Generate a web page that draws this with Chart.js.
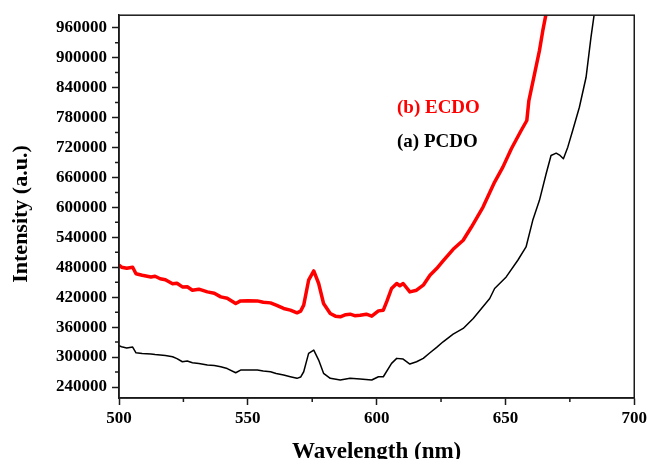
<!DOCTYPE html>
<html>
<head>
<meta charset="utf-8">
<script src="https://cdn.jsdelivr.net/npm/chart.js@4"></script>
<style>
  html, body { margin: 0; padding: 0; background: #fff; overflow: hidden; }
  #wrap { width: 650px; height: 459px; overflow: hidden; }
</style>
</head>
<body>
<div id="wrap"><canvas id="c" width="650" height="470"></canvas></div>
<script>
// Emission spectra (wavelength in nm, intensity in a.u.)
const ecdoWavelength = [500, 501, 503, 505.3, 506.6, 509, 512.4, 514, 516, 518, 520.8, 522.5, 524.6, 526.5, 528.5, 531, 534.3, 537, 539.5, 542, 545.3, 547.2, 550, 553.7, 556, 558.8, 561, 563.9, 566.5, 569.1, 570.5, 571.7, 573.6, 575.6, 577.5, 579.4, 582, 584, 585.9, 588, 589.7, 591.5, 593.6, 596, 598.1, 600.7, 602.6, 604, 605.8, 607.8, 609, 610.3, 612.9, 615.5, 618.1, 620.7, 623.3, 625.8, 629.7, 633.6, 636.8, 641.3, 645.8, 649, 652.3, 656.1, 658.3, 659.1, 661.3, 663.2, 664.5, 665.8, 666.5];
const ecdoIntensity = [484000, 480000, 478000, 480000, 467000, 464000, 460600, 462000, 457000, 455000, 447000, 448000, 440600, 441000, 434000, 436000, 430600, 428000, 420600, 418000, 407400, 412600, 413000, 412600, 410000, 408600, 404000, 397400, 394000, 388600, 392000, 404000, 454000, 472600, 447400, 407400, 387400, 382000, 380600, 385000, 386000, 383000, 384000, 386000, 382000, 392600, 394000, 412000, 437400, 447400, 443000, 447400, 430600, 434000, 444000, 464000, 477400, 492600, 516000, 534000, 560600, 600600, 650600, 680600, 717400, 754000, 774000, 814000, 867400, 914000, 954000, 988600, 1010000];

const pcdoWavelength = [500, 501, 503, 505.3, 506.6, 509, 512.4, 514, 516, 518, 520.8, 522.5, 524.6, 526.5, 528.5, 531, 534.3, 537, 539.5, 542, 545.3, 547.2, 550, 553.7, 556, 558.8, 561, 563.9, 566.5, 569.1, 570.5, 571.7, 573.6, 575.6, 577.5, 579.4, 582, 585.9, 589.7, 593.6, 598.1, 600.7, 602.6, 605.8, 607.8, 610.3, 612.9, 615.5, 618.1, 620.7, 623.3, 625.8, 629.7, 633.6, 637.5, 640.7, 643.9, 645.8, 650.3, 654.8, 658, 660.6, 663.2, 665.8, 667.7, 669.7, 671.2, 672.5, 674.2, 676.1, 678.7, 681.3, 683.2, 684.5, 685.2];
const pcdoIntensity = [322600, 320600, 318000, 320000, 308600, 307000, 306000, 305000, 304000, 303000, 300600, 297000, 290600, 292000, 288600, 287000, 284000, 283000, 280600, 277000, 268600, 274000, 274000, 274000, 272000, 270600, 267000, 264000, 260600, 257400, 260000, 270600, 307400, 314000, 294000, 267400, 257400, 254000, 257400, 256000, 254000, 260600, 260600, 287400, 297400, 296000, 286000, 290600, 297400, 308600, 319400, 330600, 346000, 357400, 377400, 397400, 417400, 437400, 460600, 494000, 520600, 574000, 614000, 667400, 704000, 708600, 704000, 697400, 720600, 754000, 800600, 860600, 940600, 988600, 1010000];

// Axis tick positions (major ones carry labels)
const xTicks = [500, 525, 550, 575, 600, 625, 650, 675, 700];
const xLabelled = [500, 550, 600, 650, 700];
const yTicks = [240000, 270000, 300000, 330000, 360000, 390000, 420000, 450000, 480000, 510000, 540000, 570000, 600000, 630000, 660000, 690000, 720000, 750000, 780000, 810000, 840000, 870000, 900000, 930000, 960000];
const yLabelled = [240000, 300000, 360000, 420000, 480000, 540000, 600000, 660000, 720000, 780000, 840000, 900000, 960000];

const seriesNames = ['(b) ECDO', '(a) PCDO'];
const seriesColors = ['#ff0000', '#000000'];
const yTitle = 'Intensity (a.u.)';

const FONT = '"Liberation Serif", "Times New Roman", serif';
const AXIS = '#1a1a1a';

function toPoints(xs, ys) { return xs.map((x, i) => ({ x: x, y: ys[i] })); }

const frameAndMinorTicks = {
  id: 'frameAndMinorTicks',
  afterDraw(chart) {
    const { ctx, chartArea: a, scales } = chart;
    ctx.save();
    ctx.strokeStyle = AXIS;
    ctx.lineWidth = 1.5;
    ctx.strokeRect(a.left, a.top, a.right - a.left, a.bottom - a.top);
    ctx.beginPath();
    xTicks.filter(v => !xLabelled.includes(v)).forEach(v => {
      const px = scales.x.getPixelForValue(v);
      ctx.moveTo(px, a.bottom); ctx.lineTo(px, a.bottom + 4);
    });
    yTicks.filter(v => !yLabelled.includes(v)).forEach(v => {
      const py = scales.y.getPixelForValue(v);
      ctx.moveTo(a.left - 4, py); ctx.lineTo(a.left, py);
    });
    ctx.stroke();
    // series labels
    ctx.font = 'bold 19px ' + FONT;
    ctx.textBaseline = 'middle';
    ctx.textAlign = 'left';
    ctx.fillStyle = seriesColors[0];
    ctx.fillText(seriesNames[0], 397, 108);
    ctx.fillStyle = seriesColors[1];
    ctx.fillText(seriesNames[1], 397, 142);
    // vertical axis title
    ctx.translate(21, 214);
    ctx.rotate(-Math.PI / 2);
    ctx.textAlign = 'center';
    ctx.fillStyle = '#000';
    ctx.font = 'bold 22px ' + FONT;
    ctx.fillText(yTitle, 0, 0);
    ctx.restore();
  }
};

new Chart(document.getElementById('c'), {
  type: 'line',
  data: {
    datasets: [
      { label: seriesNames[0], data: toPoints(ecdoWavelength, ecdoIntensity), borderColor: seriesColors[0], borderWidth: 3.5 },
      { label: seriesNames[1], data: toPoints(pcdoWavelength, pcdoIntensity), borderColor: seriesColors[1], borderWidth: 1.5 }
    ]
  },
  options: {
    responsive: false,
    animation: false,
    devicePixelRatio: 1,
    layout: { padding: { top: 13, right: 15, bottom: 0, left: 0 } },
    elements: {
      point: { radius: 0 },
      line: { tension: 0, borderJoinStyle: 'round', borderCapStyle: 'round' }
    },
    plugins: { legend: { display: false }, tooltip: { enabled: false } },
    scales: {
      x: {
        type: 'linear',
        min: 500, max: 700,
        afterBuildTicks: s => { s.ticks = xTicks.map(v => ({ value: v })); },
        afterFit: s => { s.height = 72; },
        grid: {
          drawOnChartArea: false, drawTicks: true, tickLength: 7, tickWidth: 1.5,
          tickColor: c => xLabelled.includes(c.tick.value) ? AXIS : 'rgba(0,0,0,0)'
        },
        border: { display: true, color: AXIS, width: 1.5 },
        ticks: {
          autoSkip: false, maxRotation: 0, padding: 3, color: '#000',
          font: { family: FONT, size: 17, weight: 'bold' },
          callback: v => xLabelled.includes(v) ? String(v) : ''
        },
        title: {
          display: true, text: 'Wavelength (nm)', color: '#000',
          font: { family: FONT, size: 23, weight: 'bold', lineHeight: 1 },
          padding: { top: 0, bottom: 6.5 }
        }
      },
      y: {
        type: 'linear',
        min: 218000, max: 985000,
        afterBuildTicks: s => { s.ticks = yTicks.map(v => ({ value: v })); },
        afterFit: s => { s.width = 119; },
        grid: {
          drawOnChartArea: false, drawTicks: true, tickLength: 7, tickWidth: 1.5,
          tickColor: c => yLabelled.includes(c.tick.value) ? AXIS : 'rgba(0,0,0,0)'
        },
        border: { display: true, color: AXIS, width: 1.5 },
        ticks: {
          autoSkip: false, padding: 5, color: '#000',
          font: { family: FONT, size: 17, weight: 'bold' },
          callback: v => yLabelled.includes(v) ? String(v) : ''
        },
        title: { display: false }
      }
    }
  },
  plugins: [frameAndMinorTicks]
});
</script>
</body>
</html>
